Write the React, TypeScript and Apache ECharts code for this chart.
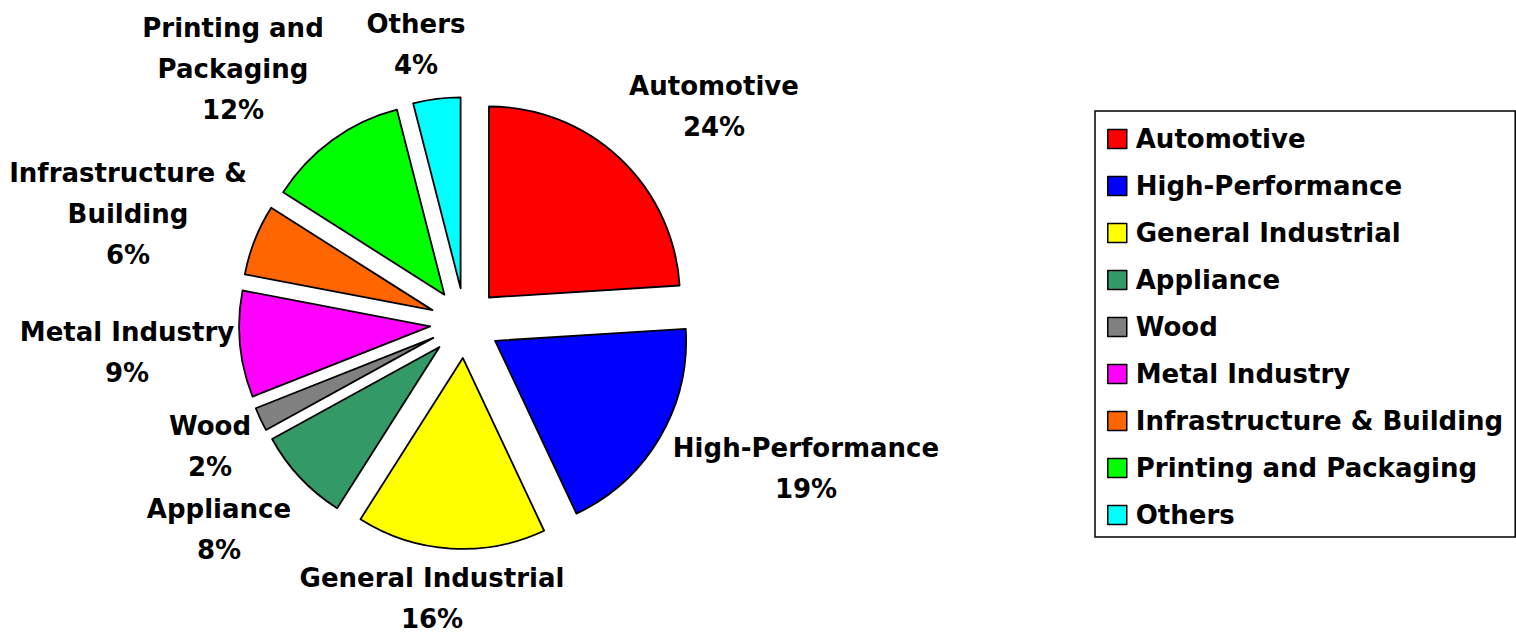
import React, { useEffect, useRef } from "react";
import * as echarts from "echarts";

const categories = [
  "Automotive",
  "High-Performance",
  "General Industrial",
  "Appliance",
  "Wood",
  "Metal Industry",
  "Infrastructure & Building",
  "Printing and Packaging",
  "Others",
];
const shares = [24, 19, 16, 8, 2, 9, 6, 12, 4];
const labelNames = [
  "Automotive",
  "High-Performance",
  "General Industrial",
  "Appliance",
  "Wood",
  "Metal Industry",
  "Infrastructure &\nBuilding",
  "Printing and\nPackaging",
  "Others",
];
const colors = [
  "#FF0000",
  "#0000FF",
  "#FFFF00",
  "#339966",
  "#808080",
  "#FF00FF",
  "#FF6600",
  "#00FF00",
  "#00FFFF",
];
// label block centres (layout only)
const labelAnchors = [
  [714, 106],
  [806, 468],
  [432, 598],
  [219, 529],
  [210, 446],
  [127, 352],
  [128, 214],
  [233, 69],
  [416, 44],
];

const FONT = "'DejaVu Sans', sans-serif";

export default function App() {
  const ref = useRef<HTMLDivElement>(null);
  useEffect(() => {
    if (!ref.current) return;
    const chart = echarts.init(ref.current, undefined, { renderer: "svg" });
    chart.setOption({
      animation: false,
      backgroundColor: "#ffffff",
      color: colors,
      legend: {
        orient: "vertical",
        left: 1095,
        top: 111,
        padding: [14, 12, 8, 12],
        borderColor: "#000",
        borderWidth: 1.5,
        itemWidth: 19,
        itemHeight: 19,
        itemGap: 19,
        icon: "rect",
        selectedMode: false,
        itemStyle: { borderColor: "#000", borderWidth: 1.5 },
        textStyle: {
          fontFamily: FONT,
          fontWeight: "bold",
          fontSize: 26,
          lineHeight: 28,
          color: "#000",
          padding: [0, 0, 0, 4],
        },
        data: categories,
      },
      graphic: categories.map((_, i) => ({
        type: "text",
        x: labelAnchors[i][0],
        y: labelAnchors[i][1],
        silent: true,
        style: {
          text: `${labelNames[i]}\n${shares[i]}%`,
          fill: "#000",
          fontFamily: FONT,
          fontWeight: "bold",
          fontSize: 26,
          lineHeight: 41,
          align: "center",
          verticalAlign: "middle",
        },
      })),
      series: [
        {
          type: "pie",
          center: [465, 323],
          radius: 191,
          startAngle: 90,
          clockwise: true,
          selectedMode: "multiple",
          selectedOffset: 35,
          avoidLabelOverlap: false,
          emphasis: { disabled: true },
          itemStyle: { borderColor: "#000", borderWidth: 1.8 },
          select: { itemStyle: { borderColor: "#000", borderWidth: 1.8 } },
          label: { show: false },
          labelLine: { show: false },
          data: categories.map((name, i) => ({
            name,
            value: shares[i],
            selected: true,
          })),
        },
      ],
    });
    return () => chart.dispose();
  }, []);
  return (
    <div
      ref={ref}
      style={{ position: "fixed", left: 0, top: 0, width: 1516, height: 633 }}
    />
  );
}
